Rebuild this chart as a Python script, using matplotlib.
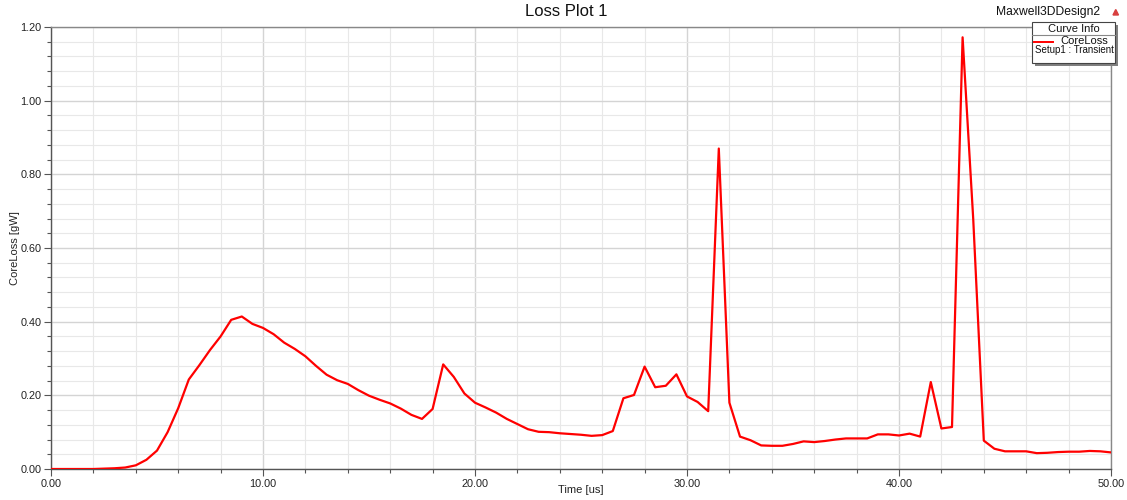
import matplotlib
matplotlib.use("Agg")
import matplotlib.pyplot as plt
from matplotlib.ticker import MultipleLocator, FormatStrFormatter
from matplotlib.patches import Rectangle, Polygon
from matplotlib.lines import Line2D

plt.rcParams['font.family'] = ['Liberation Sans', 'DejaVu Sans']

time_us = [0, 0.5, 1, 1.5, 2, 2.5, 3, 3.5, 4, 4.5, 5, 5.5, 6, 6.5, 7, 7.5, 8, 8.5, 9, 9.5,
           10, 10.5, 11, 11.5, 12, 12.5, 13, 13.5, 14, 14.5, 15, 15.5, 16, 16.5, 17, 17.5,
           18, 18.5, 19, 19.5, 20, 20.5, 21, 21.5, 22, 22.5, 23, 23.5, 24, 24.5, 25, 25.5,
           26, 26.5, 27, 27.5, 28, 28.5, 29, 29.5, 30, 30.5, 31, 31.5, 32, 32.5, 33, 33.5,
           34, 34.5, 35, 35.5, 36, 36.5, 37, 37.5, 38, 38.5, 39, 39.5, 40, 40.5, 41, 41.5,
           42, 42.5, 43, 43.5, 44, 44.5, 45, 45.5, 46, 46.5, 47, 47.5, 48, 48.5, 49, 49.5, 50]
core_loss = [0, 0, 0, 0, 0, 0.001, 0.002, 0.004, 0.010, 0.025, 0.050, 0.100, 0.165, 0.243,
             0.282, 0.323, 0.360, 0.405, 0.414, 0.394, 0.383, 0.366, 0.343, 0.326, 0.306,
             0.280, 0.256, 0.241, 0.231, 0.214, 0.199, 0.188, 0.178, 0.164, 0.147, 0.136,
             0.163, 0.284, 0.250, 0.205, 0.180, 0.167, 0.153, 0.136, 0.122, 0.108, 0.101,
             0.100, 0.097, 0.095, 0.093, 0.090, 0.092, 0.103, 0.192, 0.201, 0.278, 0.222,
             0.226, 0.257, 0.197, 0.182, 0.157, 0.870, 0.180, 0.088, 0.078, 0.064, 0.063,
             0.063, 0.068, 0.075, 0.073, 0.076, 0.080, 0.083, 0.083, 0.083, 0.094, 0.094,
             0.091, 0.096, 0.088, 0.236, 0.110, 0.114, 1.172, 0.680, 0.077, 0.055, 0.048,
             0.048, 0.048, 0.043, 0.044, 0.046, 0.047, 0.047, 0.049, 0.048, 0.045]

title = "Loss Plot 1"
design_name = "Maxwell3DDesign2"
x_label = "Time [us]"
y_label = "CoreLoss [gW]"
legend_title = "Curve Info"
legend_lines = ["CoreLoss", "Setup1 : Transient"]

W, H = 1127, 500
fig = plt.figure(figsize=(W / 100, H / 100), dpi=100)
ax = fig.add_axes([51 / W, 31 / H, 1060 / W, 442 / H])

ax.plot(time_us, core_loss, color='#ff0000', lw=1.6, zorder=3)

ax.set_xlim(0, 50)
ax.set_ylim(0, 1.2)
ax.xaxis.set_major_locator(MultipleLocator(10))
ax.xaxis.set_minor_locator(MultipleLocator(2))
ax.yaxis.set_major_locator(MultipleLocator(0.2))
ax.yaxis.set_minor_locator(MultipleLocator(0.04))
ax.xaxis.set_major_formatter(FormatStrFormatter('%.2f'))
ax.yaxis.set_major_formatter(FormatStrFormatter('%.2f'))

ax.grid(True, which='major', color='#d4d4d4', lw=1.0, zorder=0)
ax.grid(True, which='minor', color='#e8e8e8', lw=0.8, zorder=0)
ax.set_axisbelow(True)

ax.tick_params(which='major', direction='out', length=5, width=0.8, color='#555555',
               labelsize=7.8, labelcolor='#222222', pad=2)
ax.tick_params(which='minor', direction='out', length=3, width=0.8, color='#555555')

for side in ['left', 'bottom']:
    ax.spines[side].set_color('#555555')
    ax.spines[side].set_linewidth(1.0)
for side in ['top', 'right']:
    ax.spines[side].set_color('#888888')
    ax.spines[side].set_linewidth(1.0)

ax.set_xlabel(x_label, fontsize=8, color='#222222', va='center')
ax.set_ylabel(y_label, fontsize=8, color='#222222', va='center')
ax.xaxis.set_label_coords(0.5, (469 - 490) / 442)
ax.yaxis.set_label_coords((15 - 51) / 1060, 0.5)

fig.text(566 / W, 1 - 12 / H, title, ha='center', va='center', fontsize=12, color='#111111')
fig.text(1100 / W, 1 - 12 / H, design_name, ha='right', va='center', fontsize=8.7, color='#111111')
tri = Polygon([[1113 / W, 1 - 15 / H], [1118.5 / W, 1 - 15 / H], [1115.75 / W, 1 - 9.5 / H]],
              closed=True, transform=fig.transFigure, color='#d84040', zorder=5)
fig.patches.append(tri)

# legend box
bx0, by0, bx1, by1 = 1032, 22, 1115, 63
shadow = Rectangle(((bx0 + 3) / W, 1 - (by1 + 3) / H), (bx1 - bx0) / W, (by1 - by0) / H,
                   transform=fig.transFigure, facecolor='#808080', edgecolor='none', zorder=5)
box = Rectangle((bx0 / W, 1 - by1 / H), (bx1 - bx0) / W, (by1 - by0) / H,
                transform=fig.transFigure, facecolor='white', edgecolor='#444444', lw=0.8, zorder=6)
fig.patches.extend([shadow, box])
fig.lines.append(Line2D([bx0 / W, bx1 / W], [1 - 34.5 / H, 1 - 34.5 / H], transform=fig.transFigure,
                        color='#888888', lw=0.8, zorder=7))
fig.text((bx0 + bx1) / 2 / W, 1 - 28.5 / H, legend_title, ha='center', va='center', fontsize=8,
         color='#111111', zorder=7)
fig.lines.append(Line2D([1034 / W, 1053 / W], [1 - 41.5 / H, 1 - 41.5 / H], transform=fig.transFigure,
                        color='#ff0000', lw=1.4, zorder=7))
fig.text(1084 / W, 1 - 41 / H, legend_lines[0], ha='center', va='center', fontsize=8,
         color='#111111', zorder=7)
fig.text(1074 / W, 1 - 50 / H, legend_lines[1], ha='center', va='center', fontsize=7,
         color='#111111', zorder=7)

fig.savefig('out.png', dpi=100)
